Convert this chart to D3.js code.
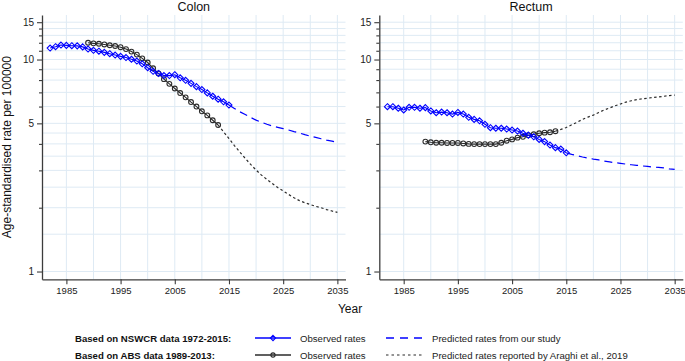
<!DOCTYPE html>
<html><head><meta charset="utf-8">
<script src="https://cdn.jsdelivr.net/npm/d3@7"></script>
<style>body{margin:0;background:#fff}svg{display:block;font-family:"Liberation Sans",Arial,Helvetica,sans-serif}</style>
</head><body><svg id="c" width="685" height="361"></svg>
<script>
// ---- data (age-standardised rate per 100000) ----
const panelTitles = ["Colon", "Rectum"];
const nswObsStart = 1982, nswPredStart = 2015, absObsStart = 1989, araghiPredStart = 2013;

const colonNswObs = [11.33, 11.5, 11.7, 11.66, 11.62, 11.6, 11.47, 11.2, 11.05, 10.95, 10.81, 10.65, 10.5, 10.35, 10.22, 10.03, 9.84, 9.55,
  9.15, 8.8, 8.6, 8.4, 8.4, 8.48, 8.2, 7.98, 7.72, 7.45, 7.22, 6.96, 6.71, 6.5, 6.32, 6.1];
const colonNswPred = [6.1, 5.88, 5.67, 5.5, 5.33, 5.18, 5.06, 4.95, 4.86, 4.79, 4.72, 4.65, 4.57, 4.5, 4.42, 4.35, 4.29, 4.23, 4.17, 4.12, 4.07];
const colonAbsObs = [12.0, 11.92, 11.87, 11.78, 11.68, 11.58, 11.43, 11.2, 10.9, 10.55, 10.13, 9.68, 9.09, 8.59, 8.08, 7.68, 7.3, 6.95, 6.63, 6.3, 6.0, 5.7, 5.45, 5.17, 4.91];
const colonAraghiPred = [4.91, 4.56, 4.24, 3.93, 3.66, 3.42, 3.2, 3.01, 2.85, 2.72, 2.6, 2.49, 2.4, 2.31, 2.23, 2.16, 2.11, 2.07, 2.03, 2.0, 1.96, 1.93, 1.9];

const rectumNswObs = [5.99, 5.99, 5.89, 5.78, 5.95, 5.95, 5.89, 5.93, 5.72, 5.61, 5.65, 5.61, 5.53, 5.63, 5.53, 5.34, 5.22, 5.14,
  4.95, 4.77, 4.74, 4.74, 4.7, 4.65, 4.6, 4.49, 4.4, 4.32, 4.2, 4.1, 3.95, 3.84, 3.78, 3.63];
const rectumNswPred = [3.63, 3.57, 3.52, 3.47, 3.43, 3.39, 3.36, 3.32, 3.29, 3.26, 3.24, 3.21, 3.19, 3.17, 3.15, 3.13, 3.11, 3.1, 3.08, 3.05, 3.03];
const rectumAbsObs = [4.1, 4.07, 4.05, 4.05, 4.04, 4.04, 4.04, 4.02, 4.0, 3.99, 3.99, 3.99, 3.99, 3.99, 4.05, 4.14, 4.2, 4.28, 4.32, 4.39, 4.44, 4.49, 4.52, 4.54, 4.59];
const rectumAraghiPred = [4.59, 4.68, 4.78, 4.92, 5.06, 5.22, 5.35, 5.47, 5.63, 5.78, 5.91, 6.05, 6.17, 6.3, 6.39, 6.47, 6.53, 6.57, 6.62, 6.66, 6.71, 6.76, 6.8];

const yTickValues = [1, 5, 10, 15];
const yMinorTicks = [2, 3, 4, 6, 7, 8, 9, 11, 12, 13, 14];
const yGridValues = [1, 1.5, 2, 2.5, 3, 3.5, 4, 4.5, 5, 6, 7, 8, 9, 10, 11, 12, 13, 14, 15];
const xTickValues = [1985, 1995, 2005, 2015, 2025, 2035];
const xGridValues = [1985, 1990, 1995, 2000, 2005, 2010, 2015, 2020, 2025, 2030, 2035];

const yAxisTitle = "Age-standardised rate per 100000";
const xAxisTitle = "Year";
const legendRows = [
  {group: "Based on NSWCR data 1972-2015:", obs: "Observed rates", pred: "Predicted rates from our study", kind: "nsw"},
  {group: "Based on ABS data 1989-2013:", obs: "Observed rates", pred: "Predicted rates reported by Araghi et al., 2019", kind: "abs"}
];

// ---- styles ----
const BLUE = "#0000ff", BLACK = "#2b2b2b", AXIS = "#3c3c3c", GRID = "#deeaf4";
const toPts = (arr, start) => arr.map((v, i) => ({year: start + i, v}));

const svg = d3.select("#c");
const y = d3.scaleLog().domain([0.919, 16.22]).range([279.3, 15]);
const xDomain = [1980.5, 2036.5];

const panels = [
  {title: panelTitles[0], x0: 42, x1: 345.5,
   nswObs: colonNswObs, nswPred: colonNswPred, absObs: colonAbsObs, araghi: colonAraghiPred},
  {title: panelTitles[1], x0: 379.3, x1: 682.8,
   nswObs: rectumNswObs, nswPred: rectumNswPred, absObs: rectumAbsObs, araghi: rectumAraghiPred}
];

function diamond(g, cx, cy, r) {
  g.append("path").attr("d", `M${cx},${cy - r}L${cx + r},${cy}L${cx},${cy + r}L${cx - r},${cy}Z`)
    .attr("fill", "none").attr("stroke", BLUE).attr("stroke-width", 1.1);
}

panels.forEach(p => {
  const x = d3.scaleLinear().domain(xDomain).range([p.x0, p.x1]);
  const g = svg.append("g");

  // grid
  g.append("g").selectAll("line").data(yGridValues).join("line")
    .attr("x1", p.x0).attr("x2", p.x1).attr("y1", d => y(d)).attr("y2", d => y(d))
    .attr("stroke", GRID).attr("stroke-width", 1);
  g.append("g").selectAll("line").data(xGridValues).join("line")
    .attr("x1", d => x(d)).attr("x2", d => x(d)).attr("y1", y.range()[1]).attr("y2", y.range()[0])
    .attr("stroke", GRID).attr("stroke-width", 1);

  // axes
  const yAx = g.append("g").attr("transform", `translate(${p.x0},0)`)
    .call(d3.axisLeft(y).tickValues(yTickValues).tickFormat(d3.format("d")).tickSize(5).tickSizeOuter(0).tickPadding(3));
  g.append("g").attr("transform", `translate(${p.x0},0)`)
    .call(d3.axisLeft(y).tickValues(yMinorTicks).tickFormat("").tickSize(3).tickSizeOuter(0))
    .call(a => a.select(".domain").remove());
  const xAx = g.append("g").attr("transform", `translate(0,${y.range()[0]})`)
    .call(d3.axisBottom(x).tickValues(xTickValues).tickFormat(d3.format("d")).tickSize(5).tickSizeOuter(0).tickPadding(3));
  g.selectAll(".domain").attr("stroke", AXIS).attr("stroke-width", 1.3);
  g.selectAll(".tick line").attr("stroke", AXIS).attr("stroke-width", 1.1);
  yAx.selectAll("text").attr("font-size", 10).attr("fill", "#222").attr("font-family", null);
  xAx.selectAll("text").attr("font-size", 9.5).attr("fill", "#222").attr("font-family", null);

  // title
  g.append("text").attr("x", (p.x0 + p.x1) / 2).attr("y", 11).attr("text-anchor", "middle")
    .attr("font-size", 12.5).attr("fill", "#111").text(p.title);

  const line = d3.line().x(d => x(d.year)).y(d => y(d.v));

  // predicted lines
  g.append("path").datum(toPts(p.araghi, araghiPredStart)).attr("d", line)
    .attr("fill", "none").attr("stroke", BLACK).attr("stroke-width", 1.2).attr("stroke-dasharray", "2.5,2.5");
  g.append("path").datum(toPts(p.nswPred, nswPredStart)).attr("d", line)
    .attr("fill", "none").attr("stroke", BLUE).attr("stroke-width", 1.2).attr("stroke-dasharray", "8,5");

  // ABS observed (black, hollow circles)
  const abs = toPts(p.absObs, absObsStart);
  g.append("path").datum(abs).attr("d", line).attr("fill", "none").attr("stroke", BLACK).attr("stroke-width", 1.1);
  g.append("g").selectAll("circle").data(abs).join("circle")
    .attr("cx", d => x(d.year)).attr("cy", d => y(d.v)).attr("r", 2.4)
    .attr("fill", "none").attr("stroke", BLACK).attr("stroke-width", 1.1);

  // NSWCR observed (blue, hollow diamonds)
  const nsw = toPts(p.nswObs, nswObsStart);
  g.append("path").datum(nsw).attr("d", line).attr("fill", "none").attr("stroke", BLUE).attr("stroke-width", 1.1);
  const dg = g.append("g");
  nsw.forEach(d => diamond(dg, x(d.year), y(d.v), 3));
});

// axis titles
svg.append("text").attr("transform", `translate(11,${(15 + 279.3) / 2}) rotate(-90)`)
  .attr("text-anchor", "middle").attr("font-size", 12).attr("fill", "#111").text(yAxisTitle);
svg.append("text").attr("x", 350).attr("y", 313).attr("text-anchor", "middle")
  .attr("font-size", 12).attr("fill", "#111").text(xAxisTitle);

// legend
const legY = [338, 355];
legendRows.forEach((r, i) => {
  const gy = legY[i];
  const lg = svg.append("g");
  lg.append("text").attr("x", 75).attr("y", gy + 3.5).attr("font-size", 9.6).attr("font-weight", "bold")
    .attr("fill", "#111").text(r.group);
  const col = r.kind === "nsw" ? BLUE : BLACK;
  lg.append("line").attr("x1", 255).attr("x2", 291).attr("y1", gy).attr("y2", gy)
    .attr("stroke", col).attr("stroke-width", 1.3);
  if (r.kind === "nsw") diamond(lg, 273, gy, 2.6);
  else lg.append("circle").attr("cx", 273).attr("cy", gy).attr("r", 2.1).attr("fill", "none").attr("stroke", col).attr("stroke-width", 1.1);
  lg.append("text").attr("x", 300).attr("y", gy + 3.5).attr("font-size", 9.6).attr("fill", "#222").text(r.obs);
  lg.append("line").attr("x1", 386).attr("x2", 422).attr("y1", gy).attr("y2", gy)
    .attr("stroke", col).attr("stroke-width", r.kind === "nsw" ? 1.4 : 1.1)
    .attr("stroke-dasharray", r.kind === "nsw" ? "8,6" : "2.5,3");
  lg.append("text").attr("x", 432).attr("y", gy + 3.5).attr("font-size", 9.6).attr("fill", "#222").text(r.pred);
});
</script></body></html>
